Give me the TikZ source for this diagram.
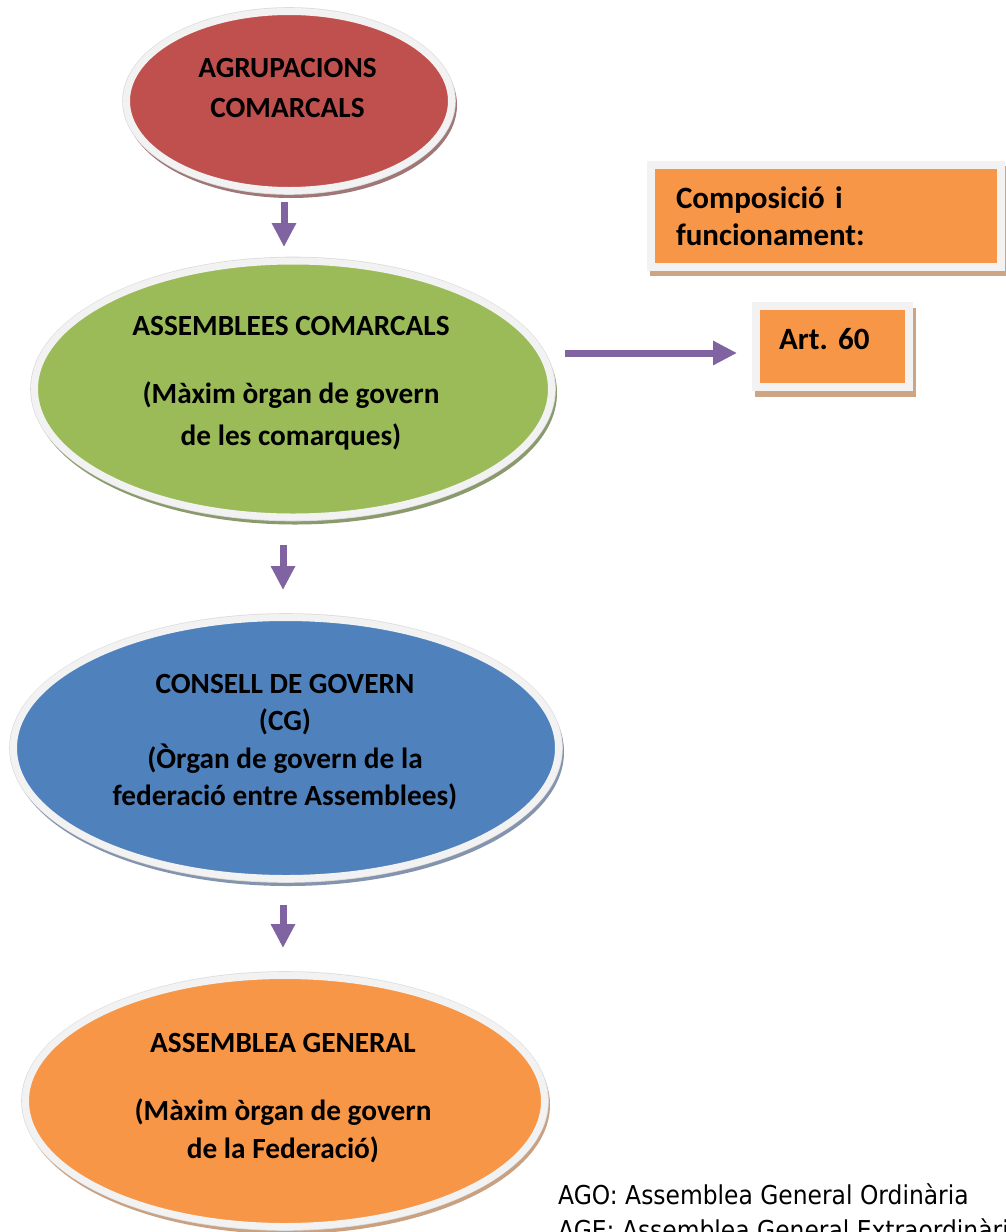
\documentclass[tikz,border=0pt]{standalone}
\usepackage{fontspec}
\setmainfont{Carlito}
\newfontfamily\legfont[FakeStretch=0.9]{DejaVu Sans}
\usetikzlibrary{shapes.geometric,arrows.meta,calc}
\definecolor{cred}{HTML}{C0504D}
\definecolor{cgreen}{HTML}{9BBB59}
\definecolor{cblue}{HTML}{4F81BD}
\definecolor{corange}{HTML}{F79646}
\definecolor{cpurple}{HTML}{8064A2}
\definecolor{ringc}{HTML}{F2F2F2}
\definecolor{edgec}{HTML}{DCDCDC}
\definecolor{shred}{HTML}{A07676}
\definecolor{shgreen}{HTML}{8A9A6C}
\definecolor{shblue}{HTML}{8494AE}
\definecolor{shorange}{HTML}{C9A080}
\definecolor{shbox}{HTML}{CDA584}
\frenchspacing
\begin{document}
\begin{tikzpicture}[x=1pt,y=-1pt,
  oval/.style={ellipse, draw=ringc, line width=7pt, inner sep=0pt, outer sep=0pt},
  otext/.style={align=center, font=\fontsize{29.3}{37.5}\selectfont\bfseries, inner sep=0pt},
  obox/.style={rectangle, draw=ringc, line width=8pt, fill=corange, outer sep=0pt,
    font=\fontsize{31}{37.5}\selectfont\bfseries, align=left},
  arr/.style={draw=cpurple, line width=7pt, -{Triangle[width=23pt,length=24pt]}},
  legend/.style={anchor=base west, inner sep=0pt, font=\legfont\fontsize{26}{35}\selectfont}]
\clip (0,0) rectangle (1006,1232);
\fill[white] (0,0) rectangle (1006,1232);

% --- AGRUPACIONS COMARCALS
\fill[shred] (291,105) ellipse [x radius=166, y radius=93];
\fill[edgec] (289,101) ellipse [x radius=166.8, y radius=93.8];
\node[oval, fill=cred, minimum width=325pt, minimum height=179pt] (agr) at (289,101) {};
\node[otext] (agrt) at (287.5,87.5) {AGRUPACIONS\\[2.5pt]COMARCALS};

% --- ASSEMBLEES COMARCALS
\fill[shgreen] (295,393) ellipse [x radius=262, y radius=131.5];
\fill[edgec] (293,389) ellipse [x radius=262.8, y radius=132.3];
\node[oval, fill=cgreen, minimum width=517pt, minimum height=256pt] (asc) at (293,389) {};
\node[otext] (asct) at (291,383.5) {ASSEMBLEES COMARCALS\\[30.5pt](Màxim òrgan de govern\\[4.5pt]de les comarques)};

% --- CONSELL DE GOVERN
\fill[shblue] (288,752) ellipse [x radius=276, y radius=134];
\fill[edgec] (286,748) ellipse [x radius=276.8, y radius=134.8];
\node[oval, fill=cblue, minimum width=545pt, minimum height=261pt] (cg) at (286,748) {};
\node[otext] (cgt) at (285,742) {CONSELL DE GOVERN\\(CG)\\(Òrgan de govern de la\\federació entre Assemblees)};

% --- ASSEMBLEA GENERAL
\fill[shorange] (287,1105) ellipse [x radius=263, y radius=129];
\fill[edgec] (285,1101) ellipse [x radius=263.8, y radius=129.8];
\node[oval, fill=corange, minimum width=519pt, minimum height=251pt] (ag) at (285,1101) {};
\node[otext] (agt) at (283,1098.5) {ASSEMBLEA GENERAL\\[30.5pt](Màxim òrgan de govern\\[0.5pt]de la Federació)};

% --- boxes
\fill[shbox] (650,166) rectangle (1008,276);
\node[obox, minimum width=350pt, minimum height=102pt, text width=300pt, inner xsep=25pt] (comp) at (826,216) {Composició i\\funcionament:};
\fill[shbox] (755,308) rectangle (916,397);
\node[obox, minimum width=153pt, minimum height=81pt, text width=107pt, inner xsep=23pt] (art) at (832.5,346.5) {\raisebox{-3pt}[0pt][0pt]{Art. 60}};

% --- arrows
\draw[arr, shorten <=11.5pt, shorten >=14pt] ([xshift=-5pt]agr.south) -- ([xshift=-5pt]agr.south |- asc.north);
\draw[arr, shorten <=28pt, shorten >=27.5pt] ([xshift=-10pt]asc.south) -- ([xshift=-10pt]asc.south |- cg.north);
\draw[arr, shorten <=26.5pt, shorten >=27.5pt] ([xshift=-3pt]cg.south) -- ([xshift=-3pt]cg.south |- ag.north);
\coordinate (hA) at ($(art.west)+(0,6.5)$);
\draw[arr, shorten <=13.5pt, shorten >=19pt] (asc.east |- hA) -- (hA);

% --- legend
\node[legend] (ago) at (558,1204) {AGO: Assemblea General Ordinària};
\node[legend] (age) at (558,1239) {AGE: Assemblea General Extraordinària};
\end{tikzpicture}
\end{document}
